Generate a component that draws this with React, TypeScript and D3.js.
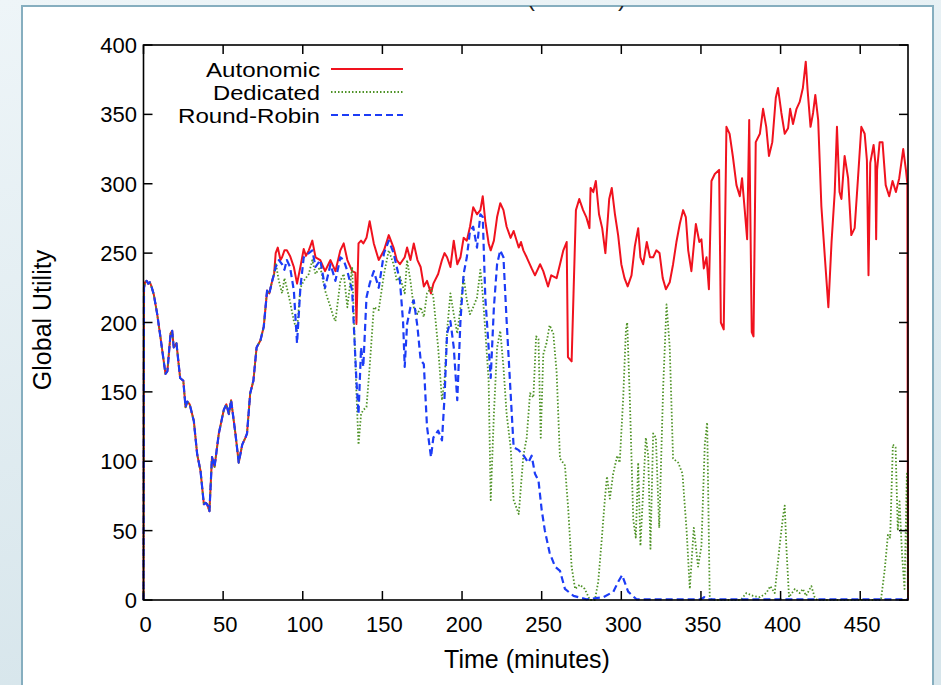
import React from "react";
import * as d3 from "d3";

// ---------- data (minutes, global utility) ----------
const xTicks = [0, 50, 100, 150, 200, 250, 300, 350, 400, 450];
const yTicks = [0, 50, 100, 150, 200, 250, 300, 350, 400];
const seriesNames = ["Autonomic", "Dedicated", "Round-Robin"];

// first 82 minutes: all three policies coincide
const sharedStart: [number, number][] = [
  [0, 0], [0.3, 225], [1, 229], [2, 230], [3, 228], [4, 229], [5, 226], [6.5, 220], [8.6, 206], [10.7, 189],
  [12, 178], [13.8, 163], [15, 165], [17, 192], [18, 194], [19, 182], [20.7, 185], [23, 160], [25, 158],
  [26.4, 139], [27.5, 143], [29, 141], [31.6, 129], [33.7, 105], [35.8, 93], [37.9, 69], [39, 70], [40, 69],
  [41.4, 64], [43, 103], [44.6, 96], [47.3, 120], [50.4, 137], [52, 141], [53.6, 134], [55, 144], [57.7, 120],
  [59.8, 99], [62, 112], [64, 117], [65, 120], [67, 149], [69, 158], [71, 182], [73.4, 187], [75.5, 197],
  [77.6, 223], [79, 221], [80.8, 230], [82, 235],
];

const autonomicTail: [number, number][] = [
  [83, 250], [84.3, 254], [86, 245], [87, 247], [88.5, 252], [90, 252], [92, 248], [94.4, 240], [96.4, 228],
  [98.5, 240], [100.6, 253], [102, 248], [103.8, 252], [106, 259], [108, 247], [111, 245], [114, 237],
  [117.4, 245], [120.5, 237], [123.6, 252], [125.7, 257], [128, 245], [131, 237], [133, 236], [133.7, 199],
  [135, 257], [136.6, 259], [138, 257], [140, 261], [142, 273], [144.6, 257], [147.7, 245], [151, 252],
  [154, 263], [157, 254], [159, 245], [161, 242], [164, 247], [165.5, 254], [167.6, 245], [169.7, 257],
  [172, 245], [174, 240], [176, 226], [178, 230], [180.5, 221], [182, 228], [185, 235], [187.4, 245],
  [189, 250], [190.6, 247], [192.7, 240], [194.8, 259], [197, 242], [199, 247], [201, 261], [203, 259],
  [205, 269], [207, 283], [209.4, 278], [211.5, 281], [213, 291], [214.6, 273], [216.7, 257], [218, 252],
  [220, 259], [222, 276], [224, 286], [226, 281], [228, 269], [230.5, 261], [232.4, 266], [235.6, 254],
  [237, 258], [238.5, 252], [240.6, 247], [243.7, 239], [245.8, 234], [249, 242], [251, 237], [254, 226],
  [256, 234], [259.4, 232], [261.5, 242], [263.6, 252], [265.7, 258], [266.5, 175], [268.8, 172], [270, 221],
  [271.5, 281], [273.6, 289], [276, 281], [278, 276], [280, 268], [280.7, 297], [282.4, 294], [284, 302],
  [286, 278], [288, 268], [290, 250], [292.4, 289], [294, 297], [296, 278], [298, 263], [300, 242], [302, 232],
  [304, 226], [306.4, 234], [308.5, 255], [310.6, 268], [312, 247], [313.7, 242], [316, 258], [318, 247],
  [320, 247], [322, 252], [324, 250], [326, 232], [328, 224], [330.4, 229], [332.5, 242], [334.6, 258],
  [336.7, 271], [338.8, 281], [340.5, 276], [342, 252], [344, 237], [346.8, 271], [349, 258], [350.3, 260],
  [351.8, 239], [353.5, 247], [355, 224], [356.6, 302], [358.7, 307], [361.4, 310], [362.5, 200], [364.3, 195],
  [366, 341], [368, 336], [370, 320], [372.3, 299], [374.4, 291], [375.8, 304], [377.5, 281], [379, 260],
  [380.3, 346], [381.9, 193], [383, 190], [384.4, 330], [387, 336], [389, 354], [391, 341], [392.7, 320],
  [394.8, 330], [397, 362], [398.4, 369], [400.5, 351], [402.6, 336], [404.7, 340], [406, 354], [407.8, 343],
  [410, 354], [412, 359], [414, 369], [415.8, 388], [417, 367], [418.8, 341], [420.4, 351], [421.8, 364],
  [423.6, 346], [425.6, 284], [427.8, 247], [430, 211], [432, 258], [434, 294], [435.4, 341], [437, 294],
  [438.2, 289], [440.2, 320], [442.4, 304], [444.4, 263], [446.5, 268], [448.6, 304], [450.7, 341],
  [452.8, 336], [454.2, 317], [455.2, 234], [456.3, 315], [458.4, 328], [459.5, 315], [460, 260], [460.6, 310],
  [462.2, 330], [464, 330], [466, 299], [468.2, 291], [470.3, 302], [472.4, 294], [474.5, 304], [477, 325],
  [478.7, 310], [479.6, 300], [480, 0],
];

const dedicatedTail: [number, number][] = [
  [83, 243], [85, 230], [87, 221], [88.5, 232], [90, 225], [92, 215], [94.4, 201], [96.4, 194], [98.5, 225],
  [100.6, 230], [103.8, 235], [106, 245], [108, 235], [111, 240], [114, 223], [117.4, 211], [119, 205],
  [120.5, 201], [122, 215], [123.6, 230], [125.7, 235], [128, 211], [131, 240], [133.7, 149], [135, 112],
  [136.6, 134], [138, 137], [140, 139], [142, 168], [144.6, 211], [147.7, 209], [151, 235], [154, 252],
  [157, 242], [159, 230], [161, 233], [164, 221], [165.5, 245], [167.6, 230], [169.7, 211], [172, 206],
  [174, 211], [176, 204], [178, 221], [180.5, 225], [182, 218], [185, 182], [187.4, 144], [189, 158],
  [190.6, 194], [192.7, 221], [194.8, 206], [197, 192], [199, 211], [201, 233], [203, 216], [205, 206],
  [207, 211], [209.4, 218], [211.5, 238], [213, 220], [214.6, 194], [216.7, 158], [218, 72], [220, 134],
  [222, 182], [224, 194], [226, 168], [228, 134], [230.5, 110], [232.4, 72], [235.6, 62], [238.5, 104],
  [240.6, 117], [242.7, 149], [244.8, 146], [246.5, 190], [248, 188], [249.4, 117], [251, 177], [253, 185],
  [255, 198], [257.3, 192], [259.4, 164], [261.5, 102], [264.6, 97], [266.7, 65], [268.8, 24], [271, 8],
  [274, 11], [277, 8], [280.3, 0], [283.4, 0], [285.5, 13], [287.6, 42], [289.7, 73], [291, 89], [292.8, 73],
  [294.9, 91], [297.4, 104], [299, 99], [301.2, 146], [302.9, 195], [303.7, 200], [305.4, 143], [307.5, 58],
  [309.1, 45], [310.6, 99], [312, 39], [313.7, 78], [315.4, 117], [316.9, 104], [318.3, 37], [320, 120],
  [321.7, 117], [323.8, 52], [326.3, 154], [328.4, 213], [330.4, 182], [332.5, 102], [335.7, 99], [338.4, 91],
  [341, 50], [343, 8], [345.5, 52], [348.2, 24], [350.3, 39], [352.4, 112], [353.9, 128], [355.5, 3],
  [357, 0], [375, 0], [378.5, 5], [382.7, 3], [387, 2], [391, 5], [393.6, 10], [396.3, 5], [399.4, 39],
  [401.5, 60], [402.6, 68], [403.6, 39], [405.3, 2], [409, 8], [412, 5], [414, 8], [416, 3], [419.3, 10],
  [421.4, 2], [423, 0], [463, 0], [465.3, 21], [467.4, 47], [468.8, 45], [470.5, 112], [472.2, 110],
  [473.6, 50], [474.7, 71], [476.3, 32], [477.8, 8], [479.3, 91], [480, 0],
];

const roundRobinTail: [number, number][] = [
  [83, 240], [85, 245], [87, 242], [88.5, 238], [90, 245], [92, 240], [94.4, 223], [96.4, 185], [98.5, 225],
  [100.6, 247], [103.8, 250], [106, 252], [108, 240], [111, 245], [114, 225], [117.4, 242], [120.5, 230],
  [123.6, 247], [125.7, 245], [128, 237], [131, 223], [133.7, 158], [135, 134], [136.6, 182], [138, 168],
  [140, 218], [142, 228], [144.6, 237], [147.7, 225], [151, 250], [154, 259], [157, 250], [159, 240],
  [161, 230], [163, 200], [164, 168], [165.5, 199], [167.6, 211], [169.7, 216], [172, 197], [174, 173],
  [176, 170], [178, 125], [180.5, 103], [182, 117], [185, 122], [187.4, 115], [189, 146], [190.6, 192],
  [192.7, 201], [194.8, 182], [197, 144], [199, 201], [201, 235], [203, 247], [205, 266], [207, 269],
  [209.4, 254], [211.5, 278], [213, 276], [214.6, 218], [216.7, 182], [218, 160], [220, 211], [222, 242],
  [224, 252], [226, 247], [228, 201], [230.5, 149], [232.4, 110], [235.6, 108], [238.7, 104], [241.6, 99],
  [243.7, 104], [245.8, 91], [248, 86], [250, 65], [252, 50], [255, 34], [258.4, 24], [261.5, 21],
  [264.6, 8], [270, 3], [278, 0.5], [288.7, 2], [295, 6], [298, 13], [300.5, 18], [304.3, 6], [309.5, 0.5],
  [350, 0.5], [352, 2], [354, 0.5], [480, 0.5],
];

const autonomic = sharedStart.concat(autonomicTail);
const dedicated = sharedStart.concat(dedicatedTail);
const roundRobin = sharedStart.concat(roundRobinTail);

// ---------- layout ----------
const W = 941;
const H = 685;
const L = 143.5, R = 908, T = 45, B = 600;
const FONT = "'Liberation Sans', Arial, Helvetica, sans-serif";

const styles = [
  { color: "#f0121e", width: 2, dash: "none" },
  { color: "#4e9226", width: 1.8, dash: "1.5 2" },
  { color: "#1c3cf6", width: 2.2, dash: "7 4" },
];
// legend label widths (px) as measured on the reference
const legendWidths = [114, 107, 142];

export default function App() {
  const x = d3.scaleLinear().domain([0, 480]).range([L, R]);
  const y = d3.scaleLinear().domain([0, 400]).range([B, T]);
  const line = d3
    .line<[number, number]>()
    .x((d) => x(d[0]))
    .y((d) => y(d[1]));
  const data = [autonomic, dedicated, roundRobin];
  const tickLen = 9;

  return (
    <div style={{ position: "fixed", left: 0, top: 0 }}>
      <svg width={W} height={H} style={{ display: "block" }} fontFamily={FONT}>
        <defs>
          <linearGradient id="bg" x1="0" y1="0" x2="0.3" y2="1">
            <stop offset="0" stopColor="#eef5f8" />
            <stop offset="1" stopColor="#d6e5eb" />
          </linearGradient>
          <clipPath id="panelClip">
            <rect x={22} y={6} width={911} height={H} />
          </clipPath>
          <clipPath id="plotClip">
            <rect x={L - 2} y={T - 2} width={R - L + 4} height={B - T + 4} />
          </clipPath>
        </defs>
        <rect x={0} y={0} width={W} height={H} fill="url(#bg)" />
        <rect x={22} y={6} width={911} height={H} fill="#ffffff" stroke="#86aebf" strokeWidth={2} />

        {/* title, cut off by the panel edge as in the source image */}
        <g clipPath="url(#panelClip)">
          <text x={531} y={6} textAnchor="middle" fontSize={24} fill="#222">(</text>
          <text x={622} y={6} textAnchor="middle" fontSize={24} fill="#222">)</text>
        </g>

        {/* series */}
        <g clipPath="url(#plotClip)">
          {data.map((d, i) => (
            <path
              key={seriesNames[i]}
              d={line(d) || ""}
              fill="none"
              stroke={styles[i].color}
              strokeWidth={styles[i].width}
              strokeDasharray={styles[i].dash}
              strokeLinejoin="round"
            />
          ))}
        </g>

        {/* frame */}
        <rect x={L} y={T} width={R - L} height={B - T} fill="none" stroke="#000" strokeWidth={1.6} />

        {/* x ticks */}
        {xTicks.map((t) => (
          <g key={"x" + t}>
            <line x1={x(t)} x2={x(t)} y1={B} y2={B - tickLen} stroke="#000" strokeWidth={1.5} />
            <line x1={x(t)} x2={x(t)} y1={T} y2={T + tickLen} stroke="#000" strokeWidth={1.5} />
            <text x={x(t) + 2} y={632} textAnchor="middle" fontSize={22} fill="#000">
              {t}
            </text>
          </g>
        ))}

        {/* y ticks */}
        {yTicks.map((v) => (
          <g key={"y" + v}>
            <line x1={L} x2={L + tickLen} y1={y(v)} y2={y(v)} stroke="#000" strokeWidth={1.5} />
            <line x1={R} x2={R - tickLen} y1={y(v)} y2={y(v)} stroke="#000" strokeWidth={1.5} />
            <text x={137} y={y(v) + 8} textAnchor="end" fontSize={22} fill="#000">
              {v}
            </text>
          </g>
        ))}

        {/* axis titles */}
        <text x={527} y={668} textAnchor="middle" fontSize={25} fill="#000">
          Time (minutes)
        </text>
        <text
          transform={`translate(51,320) rotate(-90)`}
          textAnchor="middle"
          fontSize={25}
          fill="#000"
        >
          Global Utility
        </text>

        {/* legend */}
        {seriesNames.map((name, i) => {
          const ly = 69 + i * 23;
          return (
            <g key={"lg" + name}>
              <text
                x={320}
                y={ly + 7.5}
                textAnchor="end"
                fontSize={20}
                textLength={legendWidths[i]}
                lengthAdjust="spacingAndGlyphs"
                fill="#000"
              >
                {name}
              </text>
              <line
                x1={331}
                x2={403}
                y1={ly}
                y2={ly}
                stroke={styles[i].color}
                strokeWidth={styles[i].width}
                strokeDasharray={styles[i].dash}
              />
            </g>
          );
        })}
      </svg>
    </div>
  );
}
